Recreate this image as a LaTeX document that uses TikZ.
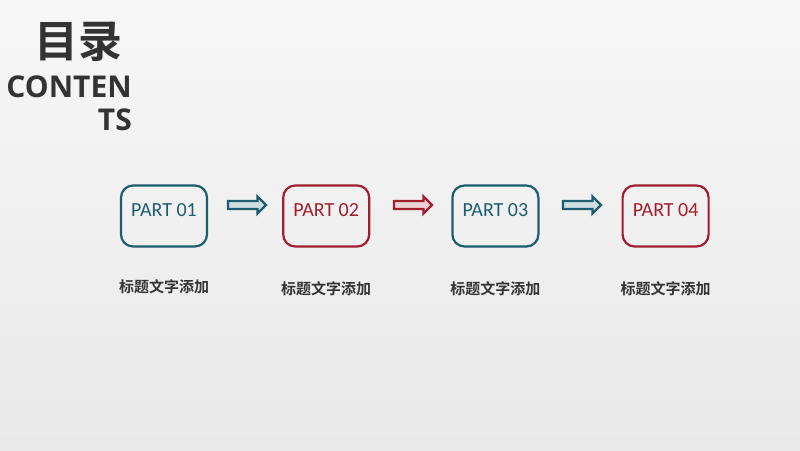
\documentclass[tikz,border=0pt]{standalone}
\usepackage{fontspec}
\usepackage{tikz}
\usetikzlibrary{positioning,shapes.arrows}
\setmainfont{Carlito}
\newfontfamily\cjkbold{Noto Sans CJK SC Bold}
\newfontfamily\headfont{Open Sans}[BoldFont={* Bold}]
\definecolor{tealink}{HTML}{1D5D70}
\definecolor{redink}{HTML}{A11E2C}
\definecolor{papertop}{HTML}{F7F7F7}
\definecolor{paperbottom}{HTML}{E9E9E9}
\definecolor{darktext}{HTML}{333333}

\begin{document}
\begin{tikzpicture}[x=1pt,y=-1pt,
	part/.style={draw=#1,text=#1,line width=2.2pt,rounded corners=12pt,
	minimum width=86pt,minimum height=61pt,text depth=11pt,font=\fontsize{20}{20}\selectfont},
	blockarrow/.style={single arrow,draw=#1,fill=white!80!#1,line width=2.4pt,
	minimum height=38pt,minimum width=17pt,single arrow head extend=2.5pt,inner sep=1pt},
	caption/.style={text=darktext,font=\cjkbold\fontsize{15}{15}\selectfont}]
\shade[top color=papertop,bottom color=paperbottom] (0,0) rectangle (800,450);
\useasboundingbox (0,0) rectangle (800,450);
\node[text=darktext,font=\cjkbold\fontsize{44}{44}\selectfont] (title) at (78,42) {目录};
\node[text=darktext,font=\headfont\bfseries\fontsize{30}{33}\selectfont,align=right,
	anchor=north east,inner sep=0pt] (contents) at (132,76) {CONTEN\\TS};
\node[part=tealink] (p1) at (164,216) {PART 01};
\node[part=redink,right=74pt of p1] (p2) {PART 02};
\node[part=tealink,right=81pt of p2] (p3) {PART 03};
\node[part=redink,right=82pt of p3] (p4) {PART 04};
\node[blockarrow=tealink] (a1) at (245,205) {};
\node[blockarrow=redink] (a2) at (411,205) {};
\node[blockarrow=tealink] (a3) at (580,205) {};
\node[caption,below=28pt of p1] (c1) {标题文字添加};
\node[caption,below=30pt of p2] (c2) {标题文字添加};
\node[caption,below=30pt of p3] (c3) {标题文字添加};
\node[caption,below=30pt of p4] (c4) {标题文字添加};
\end{tikzpicture}
\end{document}
